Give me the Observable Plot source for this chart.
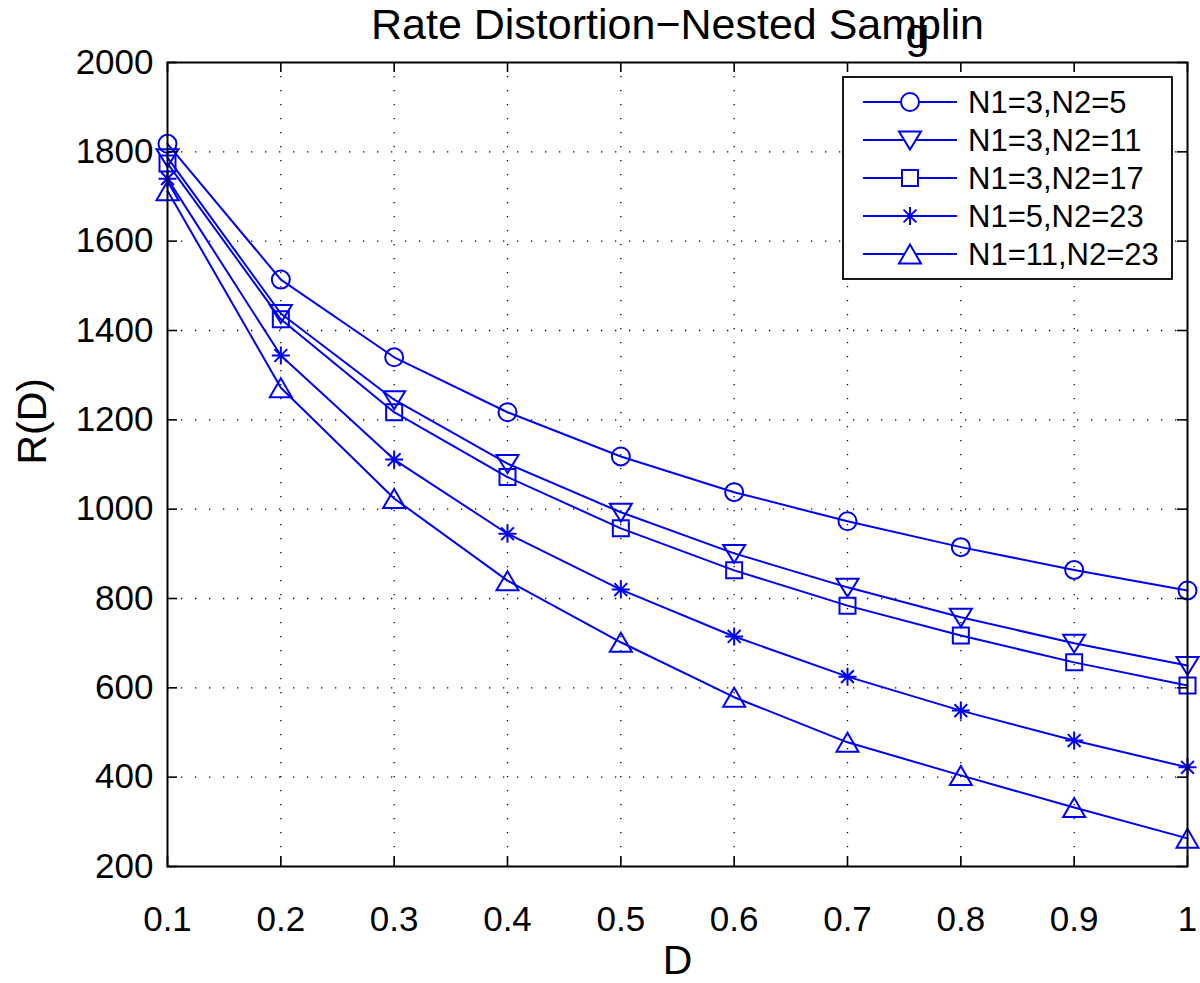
<!DOCTYPE html>
<html>
<head>
<meta charset="utf-8">
<script src="https://cdn.jsdelivr.net/npm/d3@7"></script>
<script src="https://cdn.jsdelivr.net/npm/@observablehq/plot@0.6"></script>
<style>
  html, body { margin: 0; padding: 0; background: white; }
  #wrap { position: relative; width: 1200px; height: 983px; }
  #legend { position: absolute; left: 0; top: 0; pointer-events: none; }
</style>
</head>
<body>
<div id="wrap"></div>
<script>
// ---- data ----
const D = [0.1, 0.2, 0.3, 0.4, 0.5, 0.6, 0.7, 0.8, 0.9, 1];
const seriesNames = ["N1=3,N2=5", "N1=3,N2=11", "N1=3,N2=17", "N1=5,N2=23", "N1=11,N2=23"];
const r_3_5   = [1818, 1514, 1340, 1217, 1118, 1038, 973, 915, 864, 818];
const r_3_11  = [1787, 1438, 1245, 1102, 993, 901, 825, 758, 700, 650];
const r_3_17  = [1774, 1425, 1217, 1072, 957, 863, 784, 717, 657, 605];
const r_5_23  = [1740, 1344, 1111, 945, 820, 715, 625, 549, 482, 422];
const r_11_23 = [1713, 1272, 1024, 840, 702, 579, 478, 404, 332, 263];
const xTicks = [0.1, 0.2, 0.3, 0.4, 0.5, 0.6, 0.7, 0.8, 0.9, 1];
const yTicks = [200, 400, 600, 800, 1000, 1200, 1400, 1600, 1800, 2000];
const titleMain = "Rate Distortion\u2212Nested Samplin";
const titleSub = "g";
const xLabel = "D";
const yLabel = "R(D)";

// ---- styling ----
const BLUE = "#0000f0";
const FONT = "'Liberation Sans', Arial, Helvetica, sans-serif";
const W = 1200, H = 983, ML = 167, MR = 13, MT = 62, MB = 117;
const TICK = 10;
const frameW = W - ML - MR, frameH = H - MT - MB;

const symCircle = {draw(c) { c.moveTo(9, 0); c.arc(0, 0, 9, 0, 2 * Math.PI); }};
const symTriDown = {draw(c) { c.moveTo(-11, -8.5); c.lineTo(11, -8.5); c.lineTo(0, 9.5); c.closePath(); }};
const symSquare = {draw(c) { c.moveTo(-8, -8); c.lineTo(8, -8); c.lineTo(8, 8); c.lineTo(-8, 8); c.closePath(); }};
const symStar = {draw(c) {
  c.moveTo(-9, 0); c.lineTo(9, 0); c.moveTo(0, -9); c.lineTo(0, 9);
  c.moveTo(-6.4, -6.4); c.lineTo(6.4, 6.4); c.moveTo(-6.4, 6.4); c.lineTo(6.4, -6.4);
}};
const symTriUp = {draw(c) { c.moveTo(0, -9.5); c.lineTo(11, 9.5); c.lineTo(-11, 9.5); c.closePath(); }};
const symbols = [symCircle, symTriDown, symSquare, symStar, symTriUp];
const values = [r_3_5, r_3_11, r_3_17, r_5_23, r_11_23];

const rows = [];
seriesNames.forEach((name, i) => D.forEach((d, j) => rows.push({series: name, D: d, R: values[i][j]})));

const gridStyle = {stroke: "black", strokeOpacity: 1, strokeWidth: 1.3, strokeDasharray: "1.3 12.7"};
const tk = {stroke: "black", strokeWidth: 1.6};

const chart = Plot.plot({
  width: W,
  height: H,
  marginLeft: ML,
  marginRight: MR,
  marginTop: MT,
  marginBottom: MB,
  style: {fontFamily: FONT, fontSize: "35px", background: "white", color: "black"},
  x: {domain: [0.1, 1], axis: null},
  y: {domain: [200, 2000], axis: null},
  marks: [
    Plot.gridX(xTicks.slice(1, -1), gridStyle),
    Plot.gridY(yTicks.slice(1, -1), gridStyle),
    Plot.line(rows, {x: "D", y: "R", z: "series", stroke: BLUE, strokeWidth: 2}),
    ...seriesNames.map((name, i) =>
      Plot.dot(rows.filter(r => r.series === name), {x: "D", y: "R", symbol: symbols[i], stroke: BLUE, fill: "none", strokeWidth: 2})
    ),
    Plot.frame({stroke: "black", strokeWidth: 2}),
    // inward ticks on all four sides
    Plot.ruleX(xTicks, {x: d => d, insetTop: frameH - TICK, ...tk}),
    Plot.ruleX(xTicks, {x: d => d, insetBottom: frameH - TICK, ...tk}),
    Plot.ruleY(yTicks, {y: d => d, insetRight: frameW - TICK, ...tk}),
    Plot.ruleY(yTicks, {y: d => d, insetLeft: frameW - TICK, ...tk}),
    Plot.axisX(xTicks, {anchor: "bottom", tickSize: 0, tickPadding: 40, tickFormat: d => String(d), label: null, fontSize: 35}),
    Plot.axisY(yTicks, {anchor: "left", tickSize: 0, tickPadding: 14, tickFormat: d => String(d), label: null, fontSize: 35}),
    Plot.text([xLabel], {frameAnchor: "bottom", dy: 94, lineAnchor: "middle", fontSize: 41}),
    Plot.text([yLabel], {frameAnchor: "left", dx: -135, rotate: -90, lineAnchor: "middle", fontSize: 41}),
    Plot.text([titleMain], {frameAnchor: "top", dy: -37, lineAnchor: "middle", fontSize: 43}),
    Plot.text([titleSub], {frameAnchor: "top", dy: -28, dx: 240, lineAnchor: "middle", fontSize: 43})
  ]
});
document.getElementById("wrap").appendChild(chart);

// ---- legend (overlay) ----
const leg = d3.select("#wrap").append("svg")
  .attr("id", "legend").attr("width", W).attr("height", H);
leg.append("rect").attr("x", 843).attr("y", 77).attr("width", 329).attr("height", 202)
  .attr("fill", "white").attr("stroke", "black").attr("stroke-width", 1.8);
const rowY = [102, 140, 178, 216, 254];
seriesNames.forEach((name, i) => {
  const y = rowY[i];
  leg.append("line").attr("x1", 863).attr("x2", 957).attr("y1", y).attr("y2", y)
    .attr("stroke", BLUE).attr("stroke-width", 2);
  const p = d3.path();
  symbols[i].draw(p);
  leg.append("path").attr("d", p.toString()).attr("transform", `translate(910,${y})`)
    .attr("fill", "white").attr("stroke", BLUE).attr("stroke-width", 2);
  leg.append("text").attr("x", 968).attr("y", y).attr("dy", "0.35em")
    .attr("font-family", FONT).attr("font-size", 31).attr("fill", "black").text(name);
});
</script>
</body>
</html>
